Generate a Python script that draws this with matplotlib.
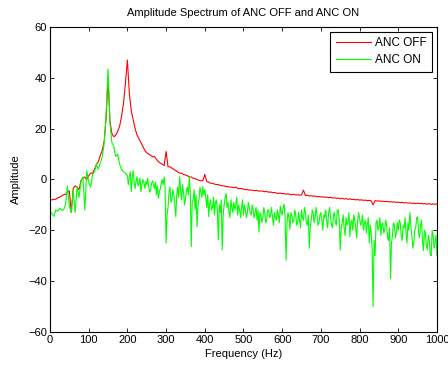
import numpy as np
import matplotlib
matplotlib.use("Agg")
import matplotlib.pyplot as plt

plt.rcParams['font.family'] = ['Liberation Sans', 'DejaVu Sans']

# ANC OFF spectrum, 5 Hz spacing
freq_off = np.arange(0, 1001, 5)
anc_off = [
    -8.0, -8.0, -7.8, -7.8, -7.2, -7.0, -6.5, -6.0, -5.8, -5.0,
    -4.5, -13.0, -3.5, -2.5, -3.0, -4.0, -0.5, 0.5, 1.0, 0.0,
    1.5, 2.5, 2.5, 4.0, 6.0, 7.0, 9.5, 11.5, 15.0, 24.0,
    40.0, 23.0, 18.0, 16.8, 17.5, 19.0, 21.0, 25.0, 30.0, 38.0,
    47.0, 34.0, 27.0, 23.4, 20.0, 17.5, 16.0, 14.5, 13.0, 11.5,
    10.5, 10.0, 9.5, 9.0, 9.0, 8.0, 7.0, 6.5, 6.0, 5.5,
    11.0, 5.0, 5.0, 4.5, 4.0, 3.5, 3.0, 2.5, 2.5, 2.0,
    1.8, 1.5, 1.0, 1.0, 0.5, 0.3, 0.0, -0.3, -0.5, -0.5,
    2.0, -0.8, -1.0, -1.5, -1.5, -1.8, -2.0, -2.0, -2.3, -2.5,
    -2.5, -2.8, -2.8, -3.0, -3.0, -3.2, -3.0, -3.5, -3.6, -3.5,
    -3.8, -4.0, -3.9, -4.2, -4.1, -4.3, -4.4, -4.3, -4.6, -4.5,
    -4.6, -4.8, -4.7, -5.0, -4.9, -5.2, -5.1, -5.3, -5.5, -5.3,
    -5.6, -5.5, -5.8, -5.6, -5.9, -6.0, -5.8, -6.1, -6.0, -6.2,
    -6.0, -4.2, -6.3, -6.2, -6.5, -6.4, -6.6, -6.5, -6.8, -6.7,
    -6.9, -6.8, -7.0, -6.9, -7.2, -7.0, -7.3, -7.2, -7.4, -7.3,
    -7.6, -7.4, -7.7, -7.5, -7.8, -7.6, -7.9, -7.8, -8.0, -7.9,
    -8.1, -8.0, -8.2, -8.1, -8.3, -8.2, -8.4, -10.0, -8.3, -8.5,
    -8.4, -8.6, -8.5, -8.7, -8.6, -8.8, -8.7, -8.9, -8.8, -9.0,
    -8.9, -9.1, -9.0, -9.2, -9.1, -9.3, -9.2, -9.4, -9.3, -9.5,
    -9.3, -9.5, -9.4, -9.6, -9.5, -9.7, -9.5, -9.8, -9.6, -9.8,
    -9.5,
]

# ANC ON spectrum: 5 Hz spacing below 200 Hz, 2.5 Hz above
freq_on = np.concatenate([np.arange(0, 200, 5), np.arange(200, 1000.1, 2.5)])
anc_on = [
    -12.5, -13.5, -14.5, -12.0, -12.5, -11.3, -12.0, -12.0, -10.0, -2.5,
    -10.5, -13.0, -4.0, -13.0, -3.0, -7.0, -1.0, 1.0, -12.0, 3.5,
    -1.0, -3.0, 2.0, 3.0, 6.0, 4.0, 6.5, 9.0, 14.0, 26.0,
    43.5, 22.0, 14.5, 13.0, 9.0, 10.0, 6.0, 4.0, 3.0, 2.5,
    # 200 Hz onwards
    1.5, -2.0, 1.0, 3.0, -4.8, 0.5, 3.5, -1.0, -3.5, -0.5,
    1.0, -2.5, -1.5, 0.5, -4.8, -2.0, 0.0, -1.0, -3.5, -0.8,
    -2.0, 0.5, -2.8, -5.0, -4.0, -1.5, -0.6, -2.0, -3.6, -1.0,
    -6.0, -2.5, -7.4, -5.0, -3.6, -1.5, 0.0, -2.0, 1.0, -3.0,
    -25.0, -14.0, -11.0, -5.0, -3.0, -9.0, -8.0, -4.0, -6.0, -10.0,
    -14.6, -6.0, -3.0, -7.0, 1.0, -4.0, -8.0, -2.0, -5.0, -10.0,
    -8.0, -4.0, -3.0, -6.0, 1.0, -5.0, -26.4, -9.0, -8.0, -4.0,
    -12.0, -6.0, -18.6, -10.0, -8.0, -3.0, -5.0, -7.0, -2.8, -6.0,
    -4.0, -7.0, -11.0, -6.0, -14.6, -10.0, -8.0, -12.0, -11.0, -7.0,
    -14.0, -9.0, -8.0, -12.0, -23.8, -10.0, -13.0, -8.0, -27.6, -14.0,
    -10.0, -7.0, -5.5, -11.0, -9.0, -13.0, -15.0, -8.0, -11.0, -13.0,
    -9.0, -12.0, -10.0, -7.0, -14.0, -10.0, -12.0, -15.0, -11.0, -8.0,
    -14.0, -10.0, -12.0, -15.0, -13.0, -9.0, -11.0, -13.0, -14.0, -10.0,
    -12.0, -15.0, -13.0, -11.0, -16.0, -12.0, -20.5, -13.0, -14.0, -17.0,
    -15.0, -11.0, -13.0, -17.0, -16.0, -12.0, -12.0, -15.0, -14.0, -11.0,
    -15.0, -18.0, -13.0, -15.0, -16.0, -12.0, -14.0, -17.0, -10.4, -13.0,
    -14.0, -11.0, -9.7, -15.0, -31.7, -17.0, -13.0, -15.0, -19.6, -13.0,
    -14.0, -17.0, -16.0, -12.0, -14.0, -18.0, -17.0, -13.0, -15.9, -19.0,
    -12.0, -15.0, -16.0, -11.0, -13.0, -17.0, -18.0, -14.0, -27.0, -19.0,
    -16.0, -12.0, -13.0, -17.0, -15.0, -11.0, -14.0, -18.0, -17.0, -14.0,
    -13.0, -16.0, -20.0, -14.0, -15.0, -12.0, -16.0, -19.0, -13.0, -11.0,
    -15.0, -18.0, -19.0, -14.0, -13.0, -17.0, -18.0, -12.0, -12.0, -16.0,
    -27.7, -19.0, -17.0, -14.0, -19.0, -22.0, -15.0, -18.0, -17.0, -13.0,
    -22.5, -17.0, -16.0, -20.0, -14.0, -16.0, -19.0, -23.0, -16.0, -13.0,
    -15.3, -18.0, -17.0, -14.0, -20.0, -17.0, -16.0, -21.0, -18.0, -15.0,
    -25.0, -18.0, -21.0, -28.0, -50.0, -24.0, -30.0, -17.0, -16.0, -20.0,
    -19.0, -15.0, -22.0, -18.0, -17.0, -21.0, -20.0, -16.0, -18.0, -23.0,
    -24.0, -19.0, -39.0, -25.0, -22.0, -17.0, -18.0, -23.0, -21.0, -17.0,
    -20.0, -16.0, -17.0, -22.0, -24.0, -18.0, -19.0, -15.0, -21.0, -25.0,
    -17.0, -20.0, -13.0, -18.0, -22.0, -27.0, -25.0, -20.0, -19.0, -15.0,
    -14.6, -21.0, -23.0, -18.0, -16.0, -24.0, -28.0, -20.0, -21.0, -26.0,
    -27.7, -22.0, -24.0, -29.0, -30.0, -20.0, -22.0, -27.0, -25.0, -22.0,
    -30.0,
]

fig = plt.figure(figsize=(4.48, 3.67), dpi=100)
ax = fig.add_axes([0.1116, 0.0954, 0.8638, 0.8310])

ax.plot(freq_off, anc_off, color=(1, 0, 0), lw=0.8, label='ANC OFF')
ax.plot(freq_on, anc_on, color=(0, 1, 0), lw=0.8, label='ANC ON')

ax.set_xlim(0, 1000)
ax.set_ylim(-60, 60)
ax.set_xticks(np.arange(0, 1001, 100))
ax.set_yticks(np.arange(-60, 61, 20))
ax.tick_params(direction='in', top=True, right=True, labelsize=8,
               length=3, width=0.6, pad=2)
for s in ax.spines.values():
    s.set_linewidth(0.8)

ax.set_title('Amplitude Spectrum of ANC OFF and ANC ON', fontsize=8, pad=8)
ax.set_xlabel('Frequency (Hz)', fontsize=8, labelpad=3)
ax.set_ylabel('Amplitude', fontsize=8, labelpad=5)

leg = ax.legend(loc='upper right', fontsize=8.5, fancybox=False,
                edgecolor='black', framealpha=1, borderaxespad=0.4,
                handlelength=3.0, handletextpad=0.35, labelspacing=0.45,
                borderpad=0.45)
leg.get_frame().set_linewidth(0.8)

fig.savefig('out.png', dpi=100)
